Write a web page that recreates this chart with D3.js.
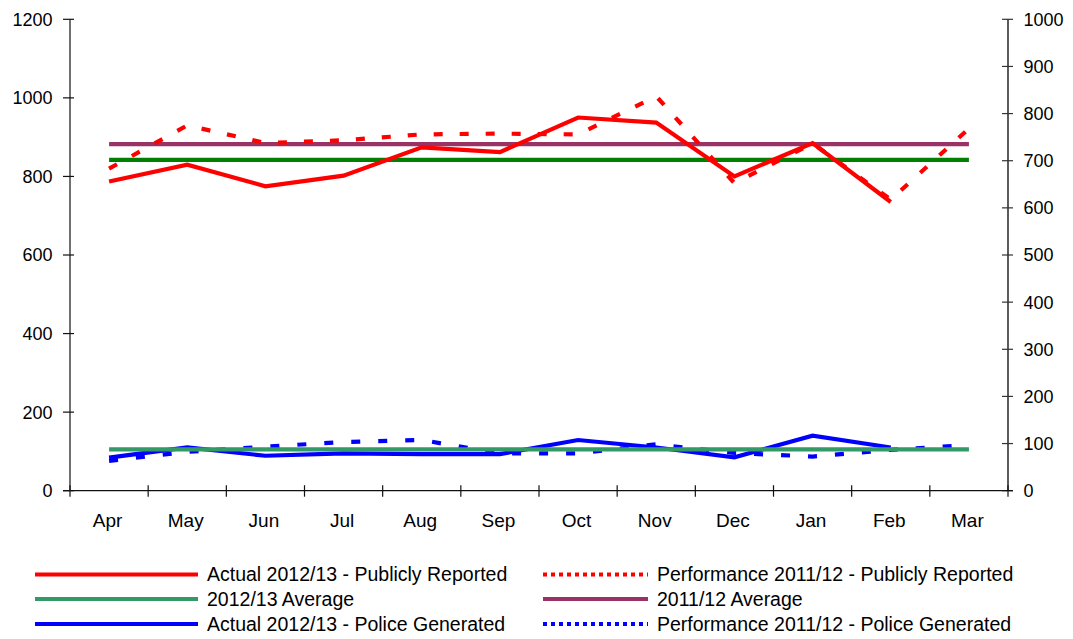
<!DOCTYPE html>
<html>
<head>
<meta charset="utf-8">
<script src="https://cdn.jsdelivr.net/npm/d3@7"></script>
<style>
  html, body { margin: 0; padding: 0; background: #fff; }
  svg { display: block; font-family: Arial, "Liberation Sans", sans-serif; }
</style>
</head>
<body>
<svg id="chart" width="1073" height="639"></svg>
<script>
// ---- data ----
const months = ["Apr","May","Jun","Jul","Aug","Sep","Oct","Nov","Dec","Jan","Feb","Mar"];
const actualPublic = [787, 830, 775, 802, 874, 862, 950, 937, 800, 885, 735, null];
const perfPublic   = [820, 930, 885, 892, 907, 909, 907, 1004, 783, 884, 741, 922];
const actualPolice = [84, 110, 89, 95, 93, 93, 129, 110, 85, 140, 110, null];
const perfPolice   = [76, 99, 112, 124, 129, 95, 95, 118, 96, 87, 104, 116];
const avg1213Public = 842;   // dark green (not in legend)
const avg1112       = 882;   // purple
const avg1213       = 105;   // sea green
const leftTicks  = [0, 200, 400, 600, 800, 1000, 1200];
const rightTicks = [0, 100, 200, 300, 400, 500, 600, 700, 800, 900, 1000];

const legendItems = [
  {label: "Actual 2012/13 - Publicly Reported", color: "#FF0000", dash: null},
  {label: "Performance 2011/12 - Publicly Reported", color: "#FF0000", dash: "4,4"},
  {label: "2012/13 Average", color: "#339966", dash: null},
  {label: "2011/12 Average", color: "#993366", dash: null},
  {label: "Actual 2012/13 - Police Generated", color: "#0000FF", dash: null},
  {label: "Performance 2011/12 - Police Generated", color: "#0000FF", dash: "4,4"}
];

// ---- layout ----
const svg = d3.select("#chart");
const L = 70, R = 1008, T = 19.3, B = 490.7;

const x = d3.scaleBand().domain(months).range([L, R]).paddingInner(0).paddingOuter(0);
const xc = m => x(m) + x.bandwidth() / 2;
const y = d3.scaleLinear().domain([0, 1200]).range([B, T]);
const y2 = d3.scaleLinear().domain([0, 1000]).range([B, T]);

// ---- lines ----
const lineGen = d3.line()
  .defined(d => d.v != null)
  .x(d => xc(d.m))
  .y(d => y(d.v));

function series(arr) { return months.map((m, i) => ({m, v: arr[i]})); }
function flat(v) { return months.map(m => ({m, v})); }

const g = svg.append("g");
function drawLine(data, color, dash) {
  g.append("path")
    .datum(data)
    .attr("fill", "none")
    .attr("stroke", color)
    .attr("stroke-width", 4.2)
    .attr("stroke-linejoin", "miter")
    .attr("stroke-dasharray", dash || null)
    .attr("d", lineGen);
}

drawLine(flat(avg1112), "#993366");
drawLine(flat(avg1213Public), "#008000");
drawLine(series(actualPublic), "#FF0000");
drawLine(series(perfPublic), "#FF0000", "9,17");
drawLine(series(actualPolice), "#0000FF");
drawLine(series(perfPolice), "#0000FF", "9,18");
drawLine(flat(avg1213), "#339966");

// ---- axes ----
const axisColor = "#111";
const ax = svg.append("g");

// left axis
ax.append("line").attr("x1", L).attr("x2", L).attr("y1", T).attr("y2", B)
  .attr("stroke", axisColor).attr("stroke-width", 1.2);
ax.selectAll(".lt").data(leftTicks).enter().append("line")
  .attr("x1", L - 7).attr("x2", L + 4)
  .attr("y1", d => y(d)).attr("y2", d => y(d))
  .attr("stroke", axisColor).attr("stroke-width", 1.2);
ax.selectAll(".ll").data(leftTicks).enter().append("text")
  .attr("x", 52.5).attr("y", d => y(d)).attr("dy", "0.36em")
  .attr("text-anchor", "end").attr("font-size", 18).attr("fill", "#000")
  .text(d => d);

// right axis
ax.append("line").attr("x1", R).attr("x2", R).attr("y1", T).attr("y2", B)
  .attr("stroke", "#333").attr("stroke-width", 1.6);
ax.selectAll(".rt").data(rightTicks).enter().append("line")
  .attr("x1", R - 6).attr("x2", R + 5)
  .attr("y1", d => y2(d)).attr("y2", d => y2(d))
  .attr("stroke", "#333").attr("stroke-width", 1.2);
ax.selectAll(".rl").data(rightTicks).enter().append("text")
  .attr("x", 1023.5).attr("y", d => y2(d)).attr("dy", "0.36em")
  .attr("text-anchor", "start").attr("font-size", 18).attr("fill", "#000")
  .text(d => d);

// bottom axis
ax.append("line").attr("x1", L - 7).attr("x2", R + 5).attr("y1", B).attr("y2", B)
  .attr("stroke", axisColor).attr("stroke-width", 1.2);
const bounds = months.map(m => x(m)).concat([R]);
ax.selectAll(".bt").data(bounds).enter().append("line")
  .attr("x1", d => d).attr("x2", d => d)
  .attr("y1", B - 5.5).attr("y2", B + 6)
  .attr("stroke", axisColor).attr("stroke-width", 1.2);
ax.selectAll(".bl").data(months).enter().append("text")
  .attr("x", d => xc(d) - 1.5).attr("y", 527)
  .attr("text-anchor", "middle").attr("font-size", 19).attr("fill", "#000")
  .text(d => d);

// ---- legend ----
const lg = svg.append("g");
const cols = [{x1: 35, x2: 198, tx: 207}, {x1: 543, x2: 648, tx: 657}];
const rowsY = [574.5, 599, 624];
legendItems.forEach((it, i) => {
  const c = cols[i % 2], ry = rowsY[Math.floor(i / 2)];
  lg.append("line")
    .attr("x1", c.x1).attr("x2", c.x2).attr("y1", ry).attr("y2", ry)
    .attr("stroke", it.color).attr("stroke-width", 4)
    .attr("stroke-dasharray", it.dash);
  lg.append("text")
    .attr("x", c.tx).attr("y", ry + 6.5)
    .attr("font-size", 19.5).attr("fill", "#000")
    .text(it.label);
});
</script>
</body>
</html>
